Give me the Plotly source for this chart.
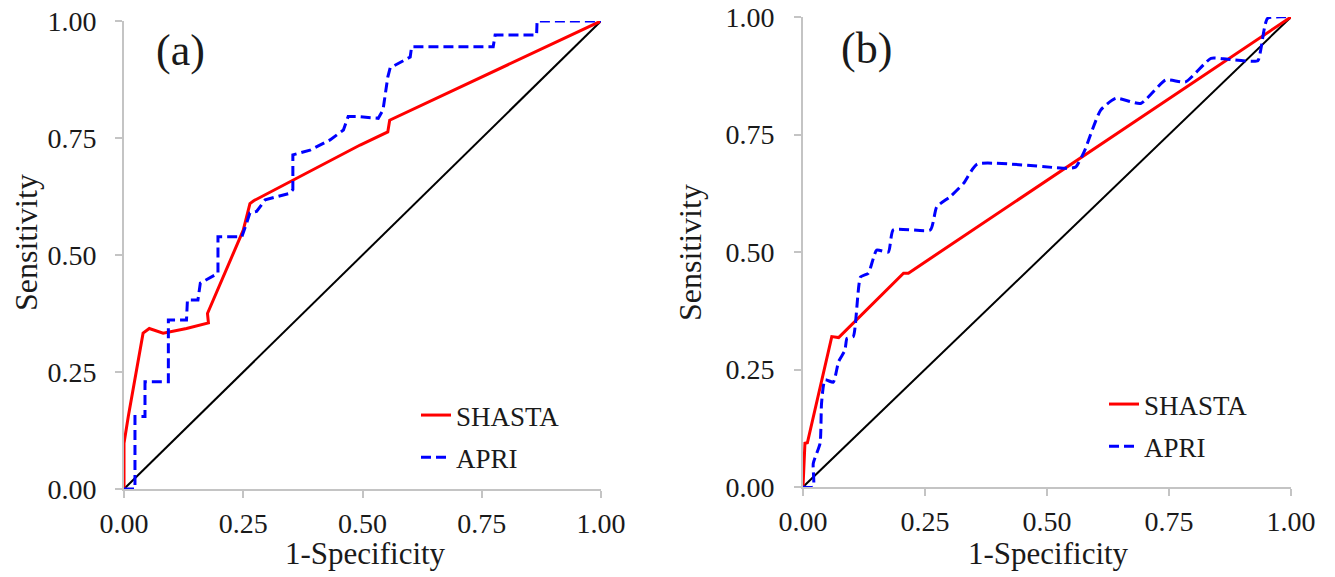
import plotly.graph_objects as go

# ---------------- data ----------------
# Panel (a)
shasta_a_x = [0.0, 0.0, 0.009, 0.020, 0.030, 0.040, 0.053, 0.082, 0.131, 0.177, 0.175, 0.250, 0.264, 0.272, 0.495, 0.553, 0.557, 1.0]
shasta_a_y = [0.0, 0.098, 0.155, 0.219, 0.283, 0.333, 0.343, 0.333, 0.343, 0.355, 0.375, 0.553, 0.610, 0.616, 0.735, 0.763, 0.788, 1.0]

apri_a_x = [0.0, 0.023, 0.023, 0.044, 0.044, 0.093, 0.093, 0.131, 0.133, 0.155, 0.160, 0.197, 0.197, 0.247, 0.257, 0.264, 0.278,
            0.296, 0.348, 0.354, 0.354, 0.390, 0.432, 0.460, 0.470, 0.488, 0.533, 0.543, 0.553, 0.558, 0.600, 0.603, 0.774,
            0.778, 0.865, 0.866, 1.0]
apri_a_y = [0.0, 0.0, 0.155, 0.155, 0.229, 0.229, 0.361, 0.361, 0.404, 0.404, 0.440, 0.461, 0.539, 0.539, 0.568, 0.590, 0.593,
            0.618, 0.632, 0.640, 0.714, 0.724, 0.746, 0.767, 0.796, 0.796, 0.792, 0.810, 0.880, 0.900, 0.923, 0.945, 0.945,
            0.970, 0.970, 1.0, 1.0]

# Panel (b)
shasta_b_x = [0.0, 0.004, 0.009, 0.059, 0.073, 0.206, 0.216, 1.0]
shasta_b_y = [0.0, 0.093, 0.094, 0.320, 0.318, 0.455, 0.455, 1.0]

apri_b_x = [0.0, 0.021, 0.021, 0.035, 0.038, 0.045, 0.062, 0.073, 0.086, 0.090, 0.103, 0.118, 0.134, 0.151, 0.175, 0.185,
            0.261, 0.274, 0.302, 0.329, 0.357, 0.541, 0.559, 0.576, 0.610, 0.641, 0.692, 0.743, 0.784, 0.836, 0.870,
            0.932, 0.938, 0.952, 1.0]
apri_b_y = [0.0, 0.0, 0.050, 0.093, 0.178, 0.228, 0.223, 0.267, 0.291, 0.316, 0.320, 0.447, 0.455, 0.504, 0.500, 0.547,
            0.547, 0.596, 0.618, 0.646, 0.687, 0.678, 0.681, 0.713, 0.802, 0.827, 0.816, 0.866, 0.862, 0.912, 0.910,
            0.907, 0.930, 0.997, 1.0]

ref_x = [0.0, 1.0]
ref_y = [0.0, 1.0]

tick_vals = [0.0, 0.25, 0.5, 0.75, 1.0]
tick_text = ["0.00", "0.25", "0.50", "0.75", "1.00"]

# ---------------- figure ----------------
W, H = 1335, 577
OFF = 8  # default page body margin
FONT = "Liberation Serif, Times New Roman, serif"
TXT = "#1a1a1a"
RED = "#ff0000"
BLUE = "#0000ff"
AXC = "#c4c4c4"

fig = go.Figure()

# panel a
fig.add_trace(go.Scatter(x=ref_x, y=ref_y, mode="lines", line=dict(color="black", width=2),
                         showlegend=False, xaxis="x", yaxis="y", hoverinfo="skip"))
fig.add_trace(go.Scatter(x=shasta_a_x, y=shasta_a_y, mode="lines", name="SHASTA",
                         line=dict(color=RED, width=3), xaxis="x", yaxis="y",
                         legend="legend", legendgroup="sa"))
fig.add_trace(go.Scatter(x=apri_a_x, y=apri_a_y, mode="lines", name="APRI",
                         line=dict(color=BLUE, width=3, dash="10px,5px"), xaxis="x", yaxis="y",
                         legend="legend", legendgroup="pa"))
# panel b
fig.add_trace(go.Scatter(x=ref_x, y=ref_y, mode="lines", line=dict(color="black", width=2),
                         showlegend=False, xaxis="x2", yaxis="y2", hoverinfo="skip"))
fig.add_trace(go.Scatter(x=shasta_b_x, y=shasta_b_y, mode="lines", name="SHASTA",
                         line=dict(color=RED, width=3), xaxis="x2", yaxis="y2",
                         legend="legend2", legendgroup="sb"))
fig.add_trace(go.Scatter(x=apri_b_x, y=apri_b_y, mode="lines", name="APRI",
                         line=dict(color=BLUE, width=3, dash="10px,5px", shape="spline", smoothing=0.5),
                         xaxis="x2", yaxis="y2", legend="legend2", legendgroup="pb"))

def px_x(p):
    return (p - OFF) / W

def px_y(p):
    return 1 - (p - OFF) / H

axis_common = dict(
    range=[0, 1], tickvals=tick_vals, ticktext=tick_text,
    showline=True, linecolor=AXC, linewidth=2,
    ticks="outside", ticklen=7, tickwidth=2, tickcolor=AXC,
    showgrid=False, zeroline=False, layer="below traces", automargin=False,
    ticklabeloverflow="allow",
    tickfont=dict(family=FONT, size=28, color=TXT),
)

ann_common = dict(xref="paper", yref="paper", showarrow=False, xanchor="center", yanchor="middle")

fig.update_layout(
    width=W, height=H, autosize=False,
    margin=dict(l=0, r=0, t=0, b=0, pad=0, autoexpand=False),
    paper_bgcolor="white", plot_bgcolor="white",
    xaxis=dict(domain=[px_x(124), px_x(601)], anchor="y", ticklabelstandoff=1, **axis_common),
    yaxis=dict(domain=[px_y(489), px_y(21)], anchor="x", ticklabelstandoff=13, **axis_common),
    xaxis2=dict(domain=[px_x(803), px_x(1291)], anchor="y2", ticklabelstandoff=1, **axis_common),
    yaxis2=dict(domain=[px_y(487), px_y(17)], anchor="x2", ticklabelstandoff=14, **axis_common),
    legend=dict(x=px_x(416), y=px_y(391), xanchor="left", yanchor="top",
                bgcolor="rgba(0,0,0,0)", traceorder="grouped", tracegroupgap=4,
                font=dict(family=FONT, size=27, color=TXT)),
    legend2=dict(x=px_x(1104), y=px_y(380), xanchor="left", yanchor="top",
                 bgcolor="rgba(0,0,0,0)", traceorder="grouped", tracegroupgap=4,
                 font=dict(family=FONT, size=27, color=TXT)),
    annotations=[
        dict(text="(a)", x=px_x(180), y=px_y(50), font=dict(family=FONT, size=44, color=TXT), **ann_common),
        dict(text="(b)", x=px_x(867), y=px_y(49), font=dict(family=FONT, size=44, color=TXT), **ann_common),
        dict(text="1-Specificity", x=px_x(365), y=px_y(553), font=dict(family=FONT, size=31, color=TXT), **ann_common),
        dict(text="1-Specificity", x=px_x(1048), y=px_y(553), font=dict(family=FONT, size=31, color=TXT), **ann_common),
        dict(text="Sensitivity", x=px_x(26), y=px_y(243), textangle=-90,
             font=dict(family=FONT, size=32, color=TXT), **ann_common),
        dict(text="Sensitivity", x=px_x(690), y=px_y(253), textangle=-90,
             font=dict(family=FONT, size=32, color=TXT), **ann_common),
    ],
)

fig.write_html("out.html")
